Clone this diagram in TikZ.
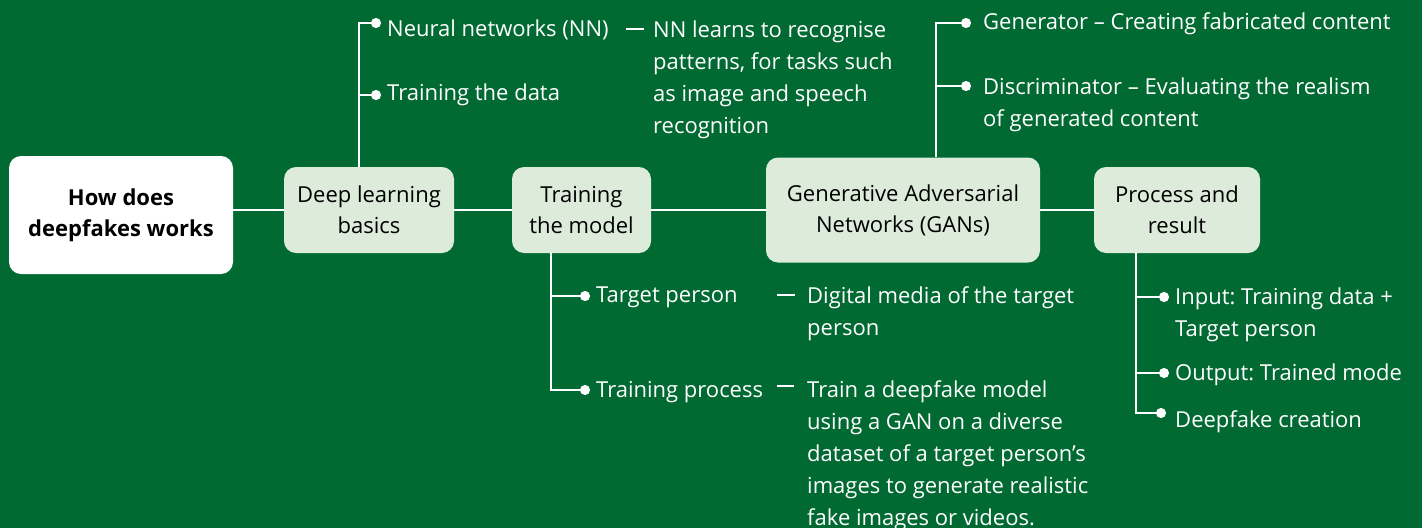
\documentclass[tikz,border=0pt]{standalone}
\usepackage{fontspec}
\setmainfont{Open Sans}
\usetikzlibrary{arrows.meta}
\definecolor{bg}{RGB}{0,106,50}
\definecolor{boxfill}{RGB}{220,235,218}
\frenchspacing
\begin{document}
\begin{tikzpicture}[x=1pt,y=-1pt,
  conn/.style={white, line width=2.2pt},
  br/.style={white, line width=2.2pt, -{Circle[length=10pt]}},
  dashln/.style={white, line width=2.4pt},
  lbl/.style={text=white, font=\fontsize{22}{32}\selectfont\frenchspacing, align=left, anchor=north west, inner sep=0pt, execute at begin node=\strut},
  box/.style={rounded corners=12pt, fill=boxfill, align=center, inner sep=0pt, font=\fontsize{22}{31}\selectfont},
]
\fill[bg] (0,0) rectangle (1422,528);
\useasboundingbox (0,0) rectangle (1422,528);

% main boxes
\node[box, fill=white, minimum width=224pt, minimum height=118pt, font=\bfseries\fontsize{22}{31}\selectfont] (main) at (121,215) {How does\\deepfakes works};
\node[box, minimum width=170pt, minimum height=86pt] (dl) at (369,210) {Deep learning\\basics};
\node[box, minimum width=139pt, minimum height=86pt] (tm) at (581.5,210) {Training\\the model};
\node[box, minimum width=274pt, minimum height=105pt] (gan) at (903,210) {Generative Adversarial\\Networks (GANs)};
\node[box, minimum width=166pt, minimum height=86pt] (pr) at (1177,210) {Process and\\result};

% spine
\draw[conn] (dl.west) -- (dl.west -| main.east);
\draw[conn] (dl.east) -- (tm.west);
\draw[conn] (tm.east) -- (tm.east -| gan.west);
\draw[conn] (gan.east |- pr.west) -- (pr.west);

% deep learning branch
\coordinate (dlnn) at (381,23);
\coordinate (dltd) at (381,95);
\draw[br] ([xshift=-10pt]dl.north) |- (dlnn);
\draw[br] (dltd -| 359,0) -- (dltd);
\node[lbl] (nn) at (387,13.5) {Neural networks (NN)};
\node[lbl] (td) at (387,78) {Training the data};
\node[lbl] (nnd) at (653,20.5) {NN learns to recognise\\patterns, for tasks such\\as image and speech\\recognition};
\draw[dashln] ([xshift=-27pt,yshift=-8.5pt]nnd.north west) -- ([xshift=-9pt,yshift=-8.5pt]nnd.north west);

% GAN branch
\coordinate (gg) at (971,23);
\coordinate (gd) at (971,86);
\draw[br] ([xshift=33pt]gan.north) |- (gg);
\draw[br] (gd -| 936,0) -- (gd);
\node[lbl] (gen) at (983,6.5) {Generator – Creating fabricated content};
\node[lbl] (dis) at (983,77.5) {Discriminator – Evaluating the realism\\of generated content};

% training branch
\coordinate (tp) at (590,296);
\coordinate (tpr) at (590,390);
\draw[br] ([xshift=-30.5pt]tm.south) |- (tpr);
\draw[br] (tp -| 551,0) -- (tp);
\node[lbl] (tpl) at (596,279.5) {Target person};
\node[lbl] (tprl) at (596,374.5) {Training process};
\node[lbl] (tpd) at (807,286.5) {Digital media of the target\\person};
\node[lbl] (tprd) at (807,380.5) {Train a deepfake model\\using a GAN on a diverse\\dataset of a target person’s\\images to generate realistic\\fake images or videos.};
\draw[dashln] ([xshift=-30pt,yshift=-8.5pt]tpd.north west) -- ([xshift=-12pt,yshift=-8.5pt]tpd.north west);
\draw[dashln] ([xshift=-30pt,yshift=-5.5pt]tprd.north west) -- ([xshift=-13pt,yshift=-5.5pt]tprd.north west);

% process branch
\coordinate (pi) at (1169,297);
\coordinate (po) at (1169,373);
\coordinate (pd) at (1166,413);
\draw[br] ([xshift=-41pt]pr.south) |- (pd);
\draw[br] (pi -| 1136,0) -- (pi);
\draw[br] (po -| 1136,0) -- (po);
\node[lbl] (pil) at (1175,287.5) {Input: Training data +\\Target person};
\node[lbl] (pol) at (1175,357.5) {Output: Trained mode};
\node[lbl] (pdl) at (1175,405) {Deepfake creation};
\end{tikzpicture}
\end{document}
